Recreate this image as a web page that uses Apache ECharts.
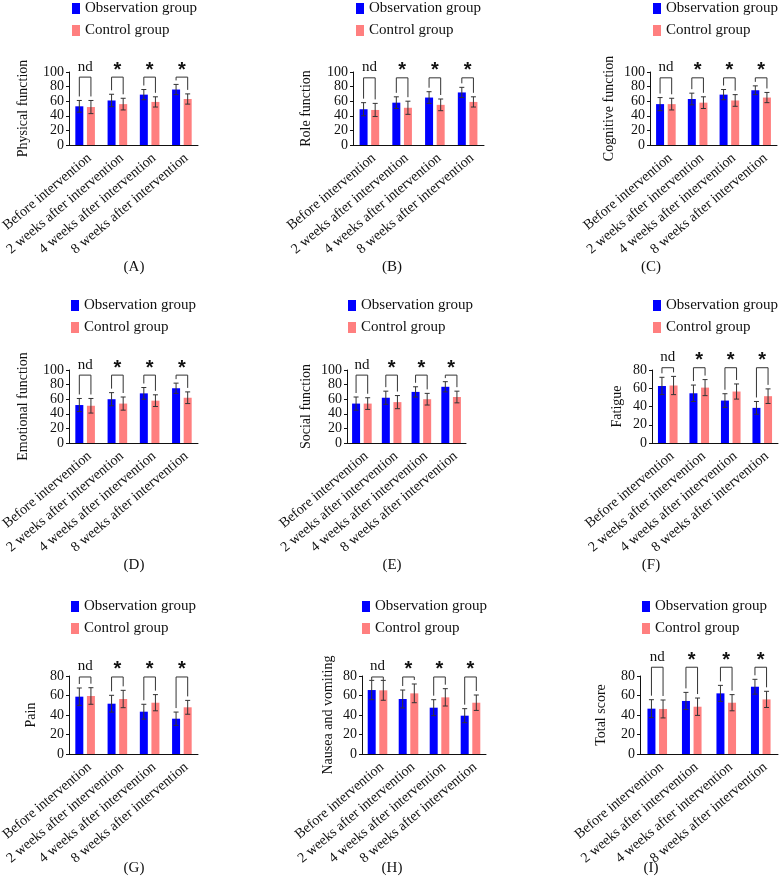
<!DOCTYPE html>
<html>
<head>
<meta charset="utf-8">
<script src="https://cdn.jsdelivr.net/npm/echarts@6/dist/echarts.min.js"></script>
<style>
html,body{margin:0;padding:0;background:#fff;}
#chart{width:779px;height:894px;}
</style>
</head>
<body>
<div id="chart"></div>
<script>
// ---------------- DATA ----------------
const categories = ['Before intervention', '2 weeks after intervention', '4 weeks after intervention', '8 weeks after intervention'];
const seriesNames = ['Observation group', 'Control group'];
const sigLabels = ['nd', '*', '*', '*'];
const panelLetters = ['(A)', '(B)', '(C)', '(D)', '(E)', '(F)', '(G)', '(H)', '(I)'];
const yAxisNames = ['Physical function', 'Role function', 'Cognitive function', 'Emotional function', 'Social function', 'Fatigue', 'Pain', 'Nausea and vomiting', 'Total score'];
const yAxisMax = [100, 100, 100, 100, 100, 80, 80, 80, 80];
const bracketTops = [93, 92, 92, 93, 93, 82.5, 79, 79, 89];

const physicalObs = [53, 61, 69, 76];      const physicalObsSD = [8, 8.5, 7, 7];
const physicalCtrl = [52, 56, 59, 63];     const physicalCtrlSD = [9, 8, 7, 7];
const roleObs = [49, 58, 65, 72];          const roleObsSD = [9, 8, 8, 7];
const roleCtrl = [48, 51, 55, 59];         const roleCtrlSD = [9, 9, 8, 7];
const cognitiveObs = [56, 63, 69, 75];     const cognitiveObsSD = [9, 8, 7, 6];
const cognitiveCtrl = [56, 58, 61, 65];    const cognitiveCtrlSD = [8, 8, 8, 7];
const emotionalObs = [52, 60, 68, 75];     const emotionalObsSD = [9, 9, 8, 7];
const emotionalCtrl = [51, 54, 58, 62];    const emotionalCtrlSD = [10, 9, 8, 8];
const socialObs = [54, 62, 70, 77];        const socialObsSD = [9, 9, 7, 7];
const socialCtrl = [54, 56, 60, 63];       const socialCtrlSD = [8, 9, 8, 8];
const fatigueObs = [62.5, 54.5, 46.5, 38.5]; const fatigueObsSD = [9.5, 9, 7.5, 7];
const fatigueCtrl = [63, 60.7, 56.4, 51.3];  const fatigueCtrlSD = [10, 8.8, 8.3, 8];
const painObs = [58.8, 51.6, 43.4, 36.2];  const painObsSD = [8.9, 8.6, 7.6, 6.8];
const painCtrl = [59.5, 56.4, 52.6, 47.9]; const painCtrlSD = [8.5, 8.9, 8.3, 7.1];
const nauseaObs = [65.6, 56.4, 47.5, 39.3];  const nauseaObsSD = [9.9, 9.2, 8.2, 7.2];
const nauseaCtrl = [65.3, 62.2, 58.1, 52.6]; const nauseaCtrlSD = [10.2, 9.6, 8.9, 7.9];
const totalObs = [46.5, 54.4, 62.2, 69];   const totalObsSD = [9.2, 8.8, 8.2, 7.6];
const totalCtrl = [46.2, 48.5, 52.6, 56];  const totalCtrlSD = [9.2, 8.9, 8.3, 8.3];

const obsMeans = [physicalObs, roleObs, cognitiveObs, emotionalObs, socialObs, fatigueObs, painObs, nauseaObs, totalObs];
const obsSDs = [physicalObsSD, roleObsSD, cognitiveObsSD, emotionalObsSD, socialObsSD, fatigueObsSD, painObsSD, nauseaObsSD, totalObsSD];
const ctrlMeans = [physicalCtrl, roleCtrl, cognitiveCtrl, emotionalCtrl, socialCtrl, fatigueCtrl, painCtrl, nauseaCtrl, totalCtrl];
const ctrlSDs = [physicalCtrlSD, roleCtrlSD, cognitiveCtrlSD, emotionalCtrlSD, socialCtrlSD, fatigueCtrlSD, painCtrlSD, nauseaCtrlSD, totalCtrlSD];

// ---------------- LAYOUT ----------------
const grids = [
  {left: 69, top: 72, width: 129, height: 73},
  {left: 353, top: 72, width: 131, height: 73},
  {left: 650, top: 72, width: 127, height: 73},
  {left: 69, top: 370, width: 129, height: 73},
  {left: 347, top: 370, width: 119, height: 73},
  {left: 652, top: 370, width: 126, height: 73},
  {left: 69, top: 676, width: 129, height: 78},
  {left: 362, top: 676, width: 124, height: 78},
  {left: 640, top: 676, width: 138, height: 78}
];
const nameGaps = [39, 40, 34, 39, 34, 28, 31, 27, 32];
const legendPos = [
  [72, 1], [356, 1], [653, 1],
  [71, 298], [348, 298], [653, 298],
  [71, 599], [362, 599], [642, 599]
];
const captionPos = [
  [134, 267], [392, 267], [651, 267],
  [134, 565], [392, 565], [651, 565],
  [134, 868], [392, 868], [651, 868]
];

const BLUE = '#0000ff';
const PINK = '#ff7f7f';
const BAR_W = 8;
const BAR_GAP = 0.45;
const OFF = (BAR_W * (2 + BAR_GAP)) / 2 - BAR_W / 2; // half distance between bar centers
const FONT = 'Liberation Serif';

const option = {
  animation: false,
  backgroundColor: '#fff',
  textStyle: {fontFamily: FONT, color: '#111'},
  grid: [], xAxis: [], yAxis: [], legend: [], series: [], graphic: []
};

for (let p = 0; p < 9; p++) {
  option.grid.push(Object.assign({containLabel: false, outerBoundsMode: 'none'}, grids[p]));
  option.xAxis.push({
    type: 'category', gridIndex: p, data: categories,
    axisLine: {lineStyle: {color: '#111', width: 1}},
    axisTick: {alignWithLabel: true, length: 3, lineStyle: {color: '#111'}},
    axisLabel: {rotate: 40, interval: 0, margin: 6, fontSize: 14.2, fontFamily: FONT, color: '#111',
      align: 'right', verticalAlign: 'top'}
  });
  option.yAxis.push({
    type: 'value', gridIndex: p, min: 0, max: yAxisMax[p], interval: 20,
    name: yAxisNames[p], nameLocation: 'middle', nameGap: nameGaps[p],
    nameTextStyle: {fontSize: 14, fontFamily: FONT, color: '#111'},
    axisLine: {show: true, lineStyle: {color: '#111', width: 1}},
    axisTick: {show: true, length: 3, lineStyle: {color: '#111'}},
    splitLine: {show: false},
    axisLabel: {margin: 5, fontSize: 14, fontFamily: FONT, color: '#111'}
  });
  option.legend.push({
    orient: 'vertical', left: legendPos[p][0], top: legendPos[p][1], padding: 0,
    itemWidth: 8, itemHeight: 11, itemGap: 7, icon: 'rect',
    data: seriesNames,
    textStyle: {fontSize: 15, fontFamily: FONT, color: '#111', padding: [0, 0, 0, 0]}
  });
  option.series.push({
    name: seriesNames[0], type: 'bar', xAxisIndex: p, yAxisIndex: p,
    data: obsMeans[p], barWidth: BAR_W, barGap: (BAR_GAP * 100) + '%',
    itemStyle: {color: BLUE}
  });
  option.series.push({
    name: seriesNames[1], type: 'bar', xAxisIndex: p, yAxisIndex: p,
    data: ctrlMeans[p], barWidth: BAR_W, barGap: (BAR_GAP * 100) + '%',
    itemStyle: {color: PINK}
  });
  // error bars
  const errData = [];
  for (let i = 0; i < categories.length; i++) {
    errData.push([i, obsMeans[p][i], obsSDs[p][i], -1]);
    errData.push([i, ctrlMeans[p][i], ctrlSDs[p][i], 1]);
  }
  option.series.push({
    type: 'custom', xAxisIndex: p, yAxisIndex: p, data: errData, z: 5, clip: false,
    renderItem: function (params, api) {
      const c = api.value(0), m = api.value(1), sd = api.value(2), side = api.value(3);
      const t = api.coord([c, m + sd]);
      const b = api.coord([c, m - sd]);
      const x = t[0] + side * OFF;
      const cap = 2.5;
      const st = {stroke: '#333', lineWidth: 1};
      return {type: 'group', children: [
        {type: 'line', shape: {x1: x, y1: t[1], x2: x, y2: b[1]}, style: st},
        {type: 'line', shape: {x1: x - cap, y1: t[1], x2: x + cap, y2: t[1]}, style: st},
        {type: 'line', shape: {x1: x - cap, y1: b[1], x2: x + cap, y2: b[1]}, style: st}
      ]};
    }
  });
  // significance brackets
  const brData = [];
  for (let i = 0; i < categories.length; i++) {
    brData.push([i, obsMeans[p][i] + obsSDs[p][i], ctrlMeans[p][i] + ctrlSDs[p][i], bracketTops[p], i]);
  }
  option.series.push({
    type: 'custom', xAxisIndex: p, yAxisIndex: p, data: brData, z: 6, clip: false,
    renderItem: function (params, api) {
      const c = api.value(0);
      const top = api.coord([c, api.value(3)]);
      const lo = api.coord([c, api.value(1)]);
      const ro = api.coord([c, api.value(2)]);
      const yT = top[1];
      const yL = Math.max(lo[1] - 4, yT + 3);
      const yR = Math.max(ro[1] - 4, yT + 3);
      const xL = top[0] - OFF, xR = top[0] + OFF;
      const lbl = sigLabels[api.value(4)];
      const isStar = lbl === '*';
      return {type: 'group', children: [
        {type: 'polyline', shape: {points: [[xL, yL], [xL, yT], [xR, yT], [xR, yR]]},
          style: {stroke: '#333', lineWidth: 1, fill: null}},
        {type: 'text', style: {
          text: lbl, x: top[0], y: isStar ? yT + 3 : yT - 3,
          align: 'center', verticalAlign: 'bottom',
          font: isStar ? 'bold 20px "Liberation Sans"' : '15px "Liberation Serif"',
          fill: '#111'
        }}
      ]};
    }
  });
  option.graphic.push({
    type: 'text', x: captionPos[p][0], y: captionPos[p][1],
    style: {text: panelLetters[p], align: 'center', verticalAlign: 'middle',
      font: '15px "Liberation Serif"', fill: '#111'}
  });
}

const chart = echarts.init(document.getElementById('chart'), null, {renderer: 'canvas'});
chart.setOption(option);
</script>
</body>
</html>
